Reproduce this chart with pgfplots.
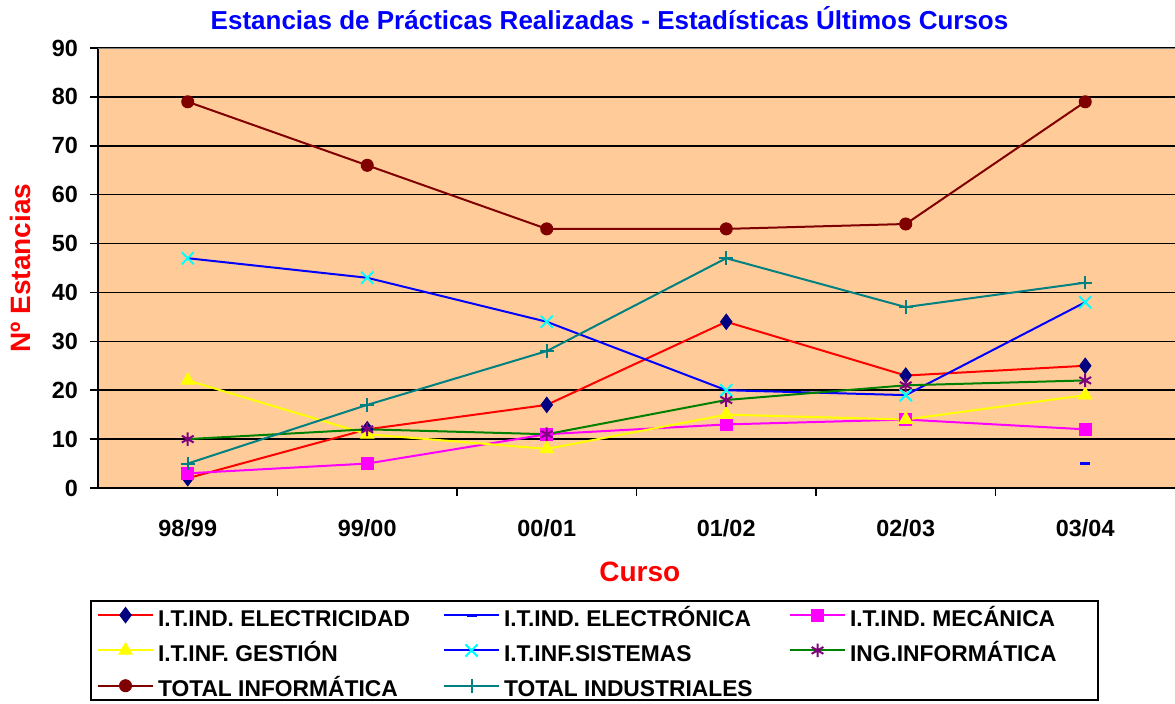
\documentclass[border=0pt]{standalone}
\usepackage{pgfplots}
\pgfplotsset{compat=1.18}
\usepackage{fontspec}
\setmainfont{Liberation Sans}
\definecolor{peach}{HTML}{FFCC99}
\definecolor{navy}{HTML}{000080}
\definecolor{xred}{HTML}{FF0000}
\definecolor{xblue}{HTML}{0000FF}
\definecolor{xmag}{HTML}{FF00FF}
\definecolor{xyel}{HTML}{FFFF00}
\definecolor{xcyan}{HTML}{00FFFF}
\definecolor{xgreen}{HTML}{008000}
\definecolor{xpurple}{HTML}{800080}
\definecolor{xmaroon}{HTML}{800000}
\definecolor{xteal}{HTML}{008080}
\definecolor{titleblue}{HTML}{0000FF}
\newcommand{\legent}[2]{\makebox[#1][l]{\rule[-4.6pt]{0pt}{17.25pt}#2}}
\begin{document}
\begin{tikzpicture}
\begin{axis}[
 at={(0pt,0pt)}, anchor=south west,
 scale only axis, width=538.5pt, height=220pt,
 xmin=-0.5, xmax=5.5, ymin=0, ymax=90,
 ytick={0,10,...,90},
 xtick={0.5,1.5,2.5,3.5,4.5}, xticklabels={},
 extra x ticks={0,1,2,3,4,5},
 extra x tick labels={98/99,99/00,00/01,01/02,02/03,03/04},
 extra x tick style={major tick length=0pt, tick label style={yshift=-12pt}},
 axis x line*=bottom, axis y line*=left,
 axis line style={black, line width=1pt},
 tick align=outside, major tick length=4pt,
 tick style={black, line width=0.8pt},
 ymajorgrids, grid style={black, line width=0.8pt},
 axis background/.style={fill=peach},
 /pgf/number format/assume math mode=true,
 tick label style={font=\bfseries\fontsize{11.7}{13}\selectfont},
 yticklabel style={xshift=-2.5pt},
 title={Estancias de Prácticas Realizadas - Estadísticas Últimos Cursos},
 title style={at={(axis description cs:0.475,1)}, anchor=center, yshift=9pt, font=\bfseries\fontsize{13}{15}\selectfont, text=titleblue},
 xlabel={Curso},
 xlabel style={at={(axis description cs:0.503,-0.191)}, anchor=center, text=xred, font=\bfseries\fontsize{14}{16}\selectfont},
 ylabel={Nº Estancias},
 ylabel style={at={(axis description cs:-0.0724,0.5)}, anchor=center, text=xred, font=\bfseries\fontsize{14}{16}\selectfont},
 legend columns=3,
 legend image code/.code={\draw[mark repeat=2,mark phase=2,#1] plot coordinates {(0pt,0pt) (13.75pt,0pt) (27.5pt,0pt)};},
 legend style={at={(axis description cs:-0.0074,-0.2545)}, anchor=north west, draw=black, line width=1pt, fill=white,
   font=\bfseries\fontsize{11.4}{13}\selectfont, row sep=3.5pt, inner ysep=0pt, nodes={inner ysep=0pt},
   /tikz/every even column/.append style={column sep=2pt}},
 legend cell align=left,
]
\addplot[xred, line width=1pt, mark=diamond*, mark size=3.8pt, mark options={fill=navy, draw=navy, line width=0.5pt}]
 coordinates {(0,2) (1,12) (2,17) (3,34) (4,23) (5,25)};
\addlegendentry{\legent{138.5pt}{I.T.IND. ELECTRICIDAD}}
\addplot[xblue, line width=1pt, mark=-, mark size=2.5pt, mark options={draw=xblue, line width=1.5pt}]
 coordinates {(5,5)};
\addlegendentry{\legent{138.5pt}{I.T.IND. ELECTRÓNICA}}
\addplot[xmag, line width=1pt, mark=square*, mark size=3pt, mark options={fill=xmag, draw=xmag, line width=0.5pt}]
 coordinates {(0,3) (1,5) (2,11) (3,13) (4,14) (5,12)};
\addlegendentry{\legent{119pt}{I.T.IND. MECÁNICA}}
\addplot[xyel, line width=1pt, mark=triangle*, mark size=3.8pt, mark options={fill=xyel, draw=xyel, line width=0.5pt}]
 coordinates {(0,22) (1,11) (2,8) (3,15) (4,14) (5,19)};
\addlegendentry{\legent{138.5pt}{I.T.INF. GESTIÓN}}
\addplot[xblue, line width=1pt, mark=x, mark size=4.3pt, mark options={draw=xcyan, line width=1pt}]
 coordinates {(0,47) (1,43) (2,34) (3,20) (4,19) (5,38)};
\addlegendentry{\legent{138.5pt}{I.T.INF.SISTEMAS}}
\addplot[xgreen, line width=1pt, mark=asterisk, mark size=3.4pt, mark options={draw=xpurple, line width=1pt}]
 coordinates {(0,10) (1,12) (2,11) (3,18) (4,21) (5,22)};
\addlegendentry{\legent{119pt}{ING.INFORMÁTICA}}
\addplot[xmaroon, line width=1pt, mark=*, mark size=3pt, mark options={fill=xmaroon, draw=xmaroon, line width=0.5pt}]
 coordinates {(0,79) (1,66) (2,53) (3,53) (4,54) (5,79)};
\addlegendentry{\legent{138.5pt}{TOTAL INFORMÁTICA}}
\addplot[xteal, line width=1pt, mark=+, mark size=3.4pt, mark options={draw=xteal, line width=1pt}]
 coordinates {(0,5) (1,17) (2,28) (3,47) (4,37) (5,42)};
\addlegendentry{\legent{138.5pt}{TOTAL INDUSTRIALES}}
\draw[gray, line width=1.2pt] (rel axis cs:0,1) -- (rel axis cs:1,1);
\end{axis}
\pgfresetboundingbox
\path[use as bounding box] (-49pt,-108pt) rectangle (538.5pt,244pt);
\end{tikzpicture}
\end{document}
